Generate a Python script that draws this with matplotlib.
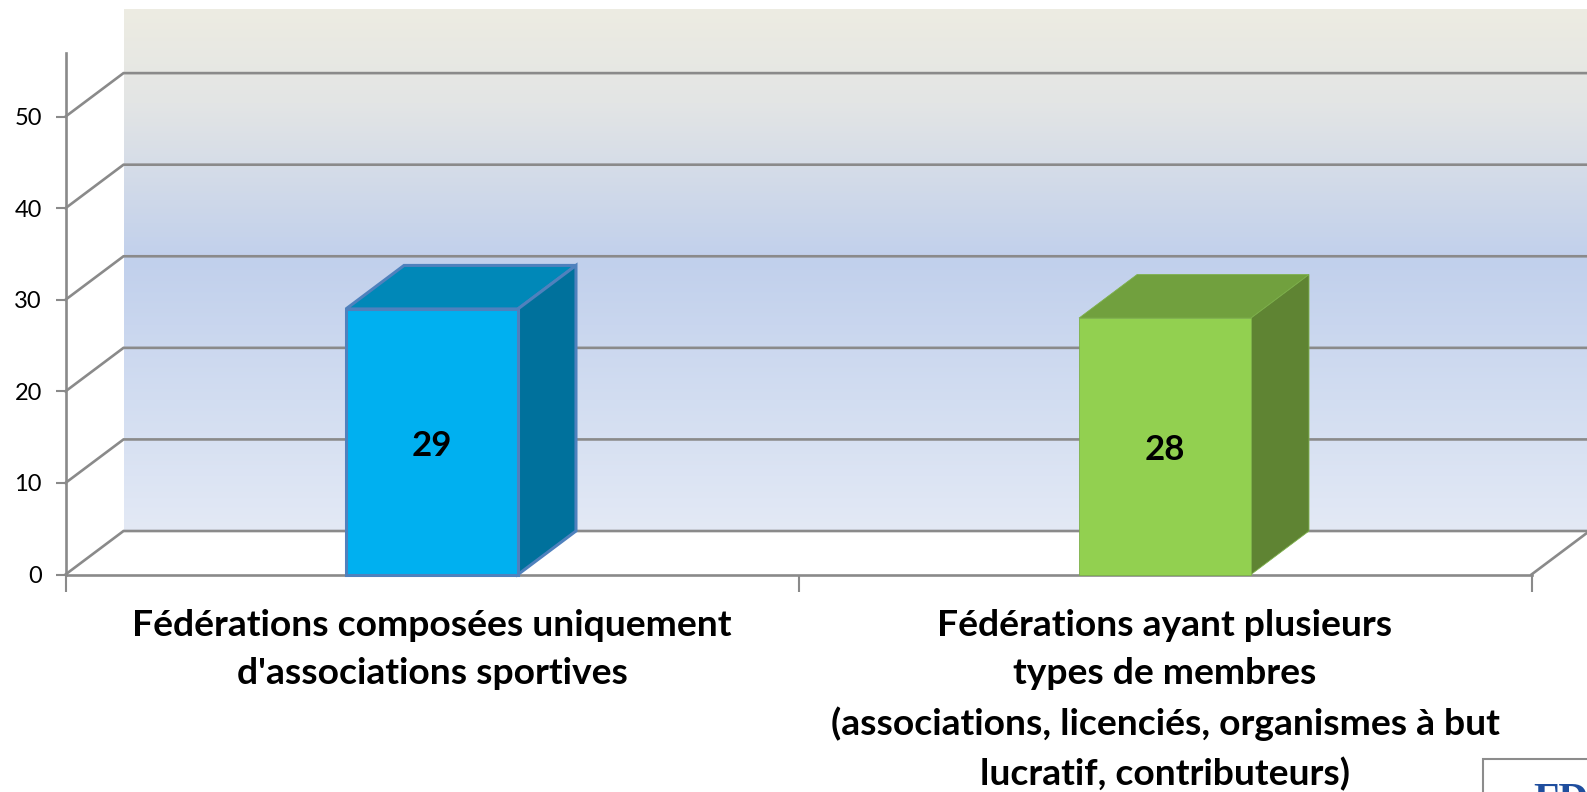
import matplotlib
matplotlib.use("Agg")
import matplotlib.pyplot as plt
import numpy as np
from matplotlib.colors import LinearSegmentedColormap
from matplotlib.patches import Rectangle

W = 1587
H = 792

categories = ["Fédérations composées uniquement\nd'associations sportives",
              "Fédérations ayant plusieurs\ntypes de membres\n(associations, licenciés, organismes à but\nlucratif, contributeurs)"]
values = [29, 28]
y_ticks = [0, 10, 20, 30, 40, 50]
front_colors = ['#00B0F0', '#92D050']
top_colors = ['#0088B8', '#71A03E']
side_colors = ['#00719C', '#5F8433']
edge_colors = ['#4F81BD', '#7DB04A']
edge_widths = [2.2, 0.6]

plt.rcParams['font.family'] = ['Lato', 'DejaVu Sans']

fig = plt.figure(figsize=(W/100, H/100), dpi=100)
# axis box: 0 sits at y=574px, top of the axis at y=52px
ax = fig.add_axes([65.5/W, 1 - 574.5/H, 1466/W, 522/H])
ax.set_xlim(0, 2)
ax.set_ylim(0, 57)
ax.patch.set_visible(False)

# depth of the fake 3d, in data units
dx = 58 / 733
dy = 43.5 / 9.16
x_right = (W - 65.5) / 733

# back wall gradient
wall = LinearSegmentedColormap.from_list('wall', [(0, '#EDECE2'), (0.18, '#E3E5E5'), (0.48, '#C1D0EC'),
                                                   (0.75, '#D2DDF1'), (1, '#E3E9F5')])
grad = np.linspace(0, 1, 256).reshape(-1, 1)
ax.imshow(grad, cmap=wall, aspect='auto', extent=(dx, x_right, dy, 57 + dy), zorder=0, clip_on=False)

grey = '#8A8A8A'
for t in y_ticks:
    ax.plot([0, dx, x_right], [t, t + dy, t + dy], color=grey, lw=1.9, zorder=1, clip_on=False,
            solid_joinstyle='miter')
ax.plot([2, x_right], [0, dy * (x_right - 2) / dx], color=grey, lw=1.9, zorder=1, clip_on=False)

for i, v in enumerate(values):
    x0 = i + 0.5 - 0.1173
    x1 = i + 0.5 + 0.1173
    ec = edge_colors[i]
    lw = edge_widths[i]
    ax.fill([x0, x0 + dx, x1 + dx, x1], [v, v + dy, v + dy, v], fc=top_colors[i], ec=ec, lw=lw, zorder=3, clip_on=False)
    ax.fill([x1, x1 + dx, x1 + dx, x1], [0, dy, v + dy, v], fc=side_colors[i], ec=ec, lw=lw, zorder=3, clip_on=False)
    ax.bar(i + 0.5, v, width=0.2346, color=front_colors[i], edgecolor=ec, lw=lw, zorder=4, clip_on=False)
    ax.text(i + 0.5, v / 2 - 0.45, str(v), ha='center', va='center', fontsize=25, fontweight='bold', color='black', zorder=5)

for s in ['top', 'right']:
    ax.spines[s].set_visible(False)
for s in ['left', 'bottom']:
    ax.spines[s].set_color(grey)
    ax.spines[s].set_linewidth(1.9)

ax.set_yticks(y_ticks)
ax.set_xticks([0, 1, 2])
ax.set_xticklabels([])
ax.tick_params(axis='y', length=7, width=1.5, color=grey, labelsize=17, pad=10, labelcolor='black')
ax.tick_params(axis='x', direction='out', length=12, width=1.5, color=grey)

for i, lab in enumerate(categories):
    ax.annotate(lab, xy=(i + 0.5, 0), xycoords='data', xytext=(0, -25), textcoords='offset points',
                ha='center', va='top', fontsize=26.8, fontweight='bold', linespacing=1.56, annotation_clip=False)

# corner of the logo cut off at the bottom right
fig.add_artist(Rectangle((1483/W, -5/H), 120/W, 38/H, transform=fig.transFigure, fc='white', ec='#8C8C8C', lw=1.5))
fig.text(1533/W, -20/H, 'FD', ha='left', va='baseline', fontsize=30, fontweight='bold', color='#1F4E9E', family='Liberation Serif')

fig.savefig('out.png', dpi=100)
